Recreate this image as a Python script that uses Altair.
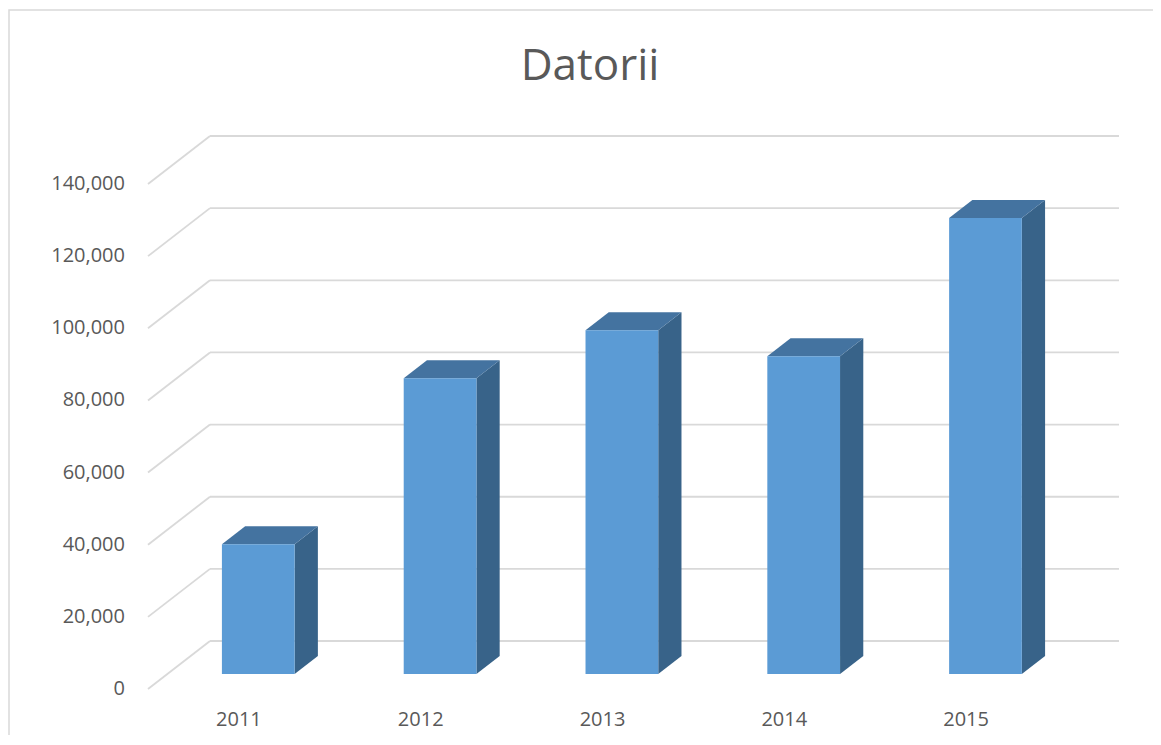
import altair as alt
import pandas as pd

# ---- data ----
years = ["2011", "2012", "2013", "2014", "2015"]
values = [36000, 82000, 95300, 88100, 126400]
ticks = [0, 20000, 40000, 60000, 80000, 100000, 120000, 140000]
tick_labels = ["0", "20,000", "40,000", "60,000", "80,000", "100,000", "120,000", "140,000"]
title_text = "Datorii"

# ---- pseudo-3D geometry (depth offsets in data units) ----
N = len(years)
DX = 0.341      # depth shift along x, category units
DY = 13300      # depth shift along y, value units
D0, D1 = 0.3125, 0.6875   # bar front / back depth fraction
HALF = 0.2      # half bar width, category units

FONT = "Open Sans"
TXT = "#595959"
GRID = "#d9d9d9"
FRONT = "#5b9bd5"
TOP = "#4473a0"
SIDE = "#386389"

xs = alt.Scale(domain=[0, N + DX], nice=False, zero=False)
ys = alt.Scale(domain=[0, ticks[-1] + DY], nice=False, zero=False)

back = pd.DataFrame({"x": [DX] * len(ticks), "x2": [N + DX] * len(ticks),
                     "y": [t + DY for t in ticks]})
diag = pd.DataFrame({"x": [0.0] * len(ticks), "x2": [DX] * len(ticks),
                     "y": ticks, "y2": [t + DY for t in ticks],
                     "label": tick_labels})

front_rows, top_rows, side_rows, lab_rows = [], [], [], []
for i, (yr, v) in enumerate(zip(years, values)):
    c = i + 0.5
    front_rows.append({"year": yr, "x": c - HALF + D0 * DX, "x2": c + HALF + D0 * DX,
                       "y": D0 * DY, "y2": v + D0 * DY})
    for d in (D0, D1):
        top_rows.append({"year": yr, "y": v + d * DY,
                         "x": c - HALF + d * DX, "x2": c + HALF + d * DX})
        side_rows.append({"year": yr, "x": c + HALF + d * DX,
                          "y": d * DY, "y2": v + d * DY})
    lab_rows.append({"year": yr, "x": c, "y": 0})

front = pd.DataFrame(front_rows)
top = pd.DataFrame(top_rows)
side = pd.DataFrame(side_rows)
labs = pd.DataFrame(lab_rows)

X = lambda f="x": alt.X(f"{f}:Q", scale=xs, axis=None)
Y = lambda f="y": alt.Y(f"{f}:Q", scale=ys, axis=None)

back_layer = alt.Chart(back).mark_rule(color=GRID, strokeWidth=1.8).encode(
    x=X(), x2="x2:Q", y=Y())

diag_layer = alt.Chart(diag).mark_rule(color=GRID, strokeWidth=1.8).encode(
    x=X(), x2="x2:Q", y=Y(), y2="y2:Q")

ylab_layer = alt.Chart(diag).mark_text(
    font=FONT, fontSize=20, color=TXT, align="right", baseline="middle", dx=-23).encode(
    x=X(), y=Y(), text="label:N")

side_layer = alt.Chart(side).mark_area(color=SIDE, orient="vertical").encode(
    x=X(), y=Y(), y2="y2:Q", detail="year:N")

top_layer = alt.Chart(top).mark_area(color=TOP, orient="horizontal").encode(
    y=Y(), x=X(), x2="x2:Q", detail="year:N")

front_layer = alt.Chart(front).mark_rect(color=FRONT).encode(
    x=X(), x2="x2:Q", y=Y(), y2="y2:Q")

label_layer = alt.Chart(labs).mark_text(
    font=FONT, fontSize=20, color=TXT, baseline="alphabetic", dy=37).encode(
    x=X(), y=Y(), text="year:N")

title_layer = alt.Chart(pd.DataFrame({"t": [title_text]})).mark_text(
    font=FONT, fontSize=44, color=TXT, baseline="alphabetic", align="center").encode(
    x=alt.value(442), y=alt.value(-56), text="t:N")

border_layer = alt.Chart(pd.DataFrame({"b": [0]})).mark_rect(
    fill=None, stroke=GRID, strokeWidth=1.5).encode(
    x=alt.value(-139), x2=alt.value(1012), y=alt.value(-126), y2=alt.value(700))

chart = alt.layer(
    border_layer, back_layer, diag_layer, ylab_layer, side_layer, top_layer,
    front_layer, label_layer, title_layer
).properties(
    width=971, height=553,
    padding={"left": 140, "top": 128, "right": 34, "bottom": 46},
    autosize=alt.AutoSizeParams(type="none"),
).configure_view(strokeWidth=0)

chart.save("out.html", embed_options={"renderer": "svg", "actions": False})
